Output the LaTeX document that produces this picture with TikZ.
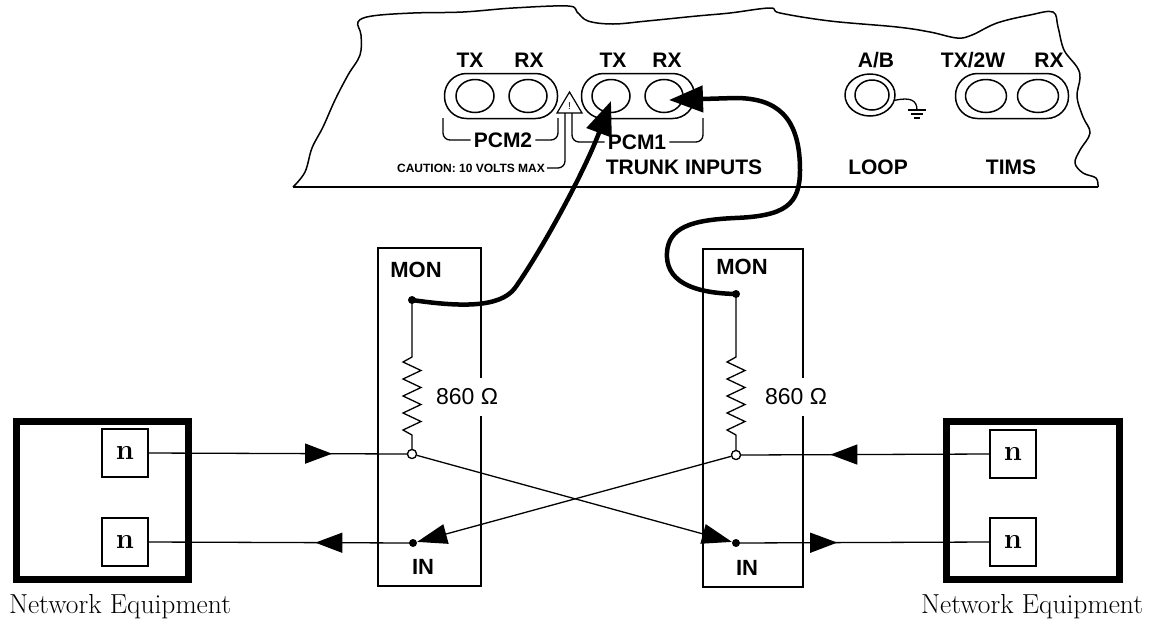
\documentclass[tikz,border=0pt]{standalone}
\usepackage{fontspec}
\usetikzlibrary{arrows.meta,positioning,shapes.geometric,decorations.markings}
\newfontfamily\lblfont{Liberation Sans}
\tikzset{
  pill/.style={draw,line width=1.5pt,rounded corners=22pt,minimum width=113pt,minimum height=45pt,inner sep=0pt},
  jack/.style={draw,ellipse,line width=1.5pt,minimum width=38pt,minimum height=33pt,inner sep=0pt},
  lbl/.style={font=\fontsize{21}{24}\selectfont\lblfont\bfseries,inner sep=3pt},
  wire/.style={line width=1.3pt},
  cable/.style={line width=4.5pt,line cap=round,-{Triangle[length=34pt,width=26pt]}},
  dot/.style={circle,fill,inner sep=0pt,minimum size=8pt},
  term/.style={circle,draw,fill=white,line width=1.2pt,inner sep=0pt,minimum size=9pt},
  nbox/.style={draw,line width=2pt,minimum width=46pt,minimum height=48pt,font=\fontsize{29}{30}\selectfont\bfseries},
  netbox/.style={draw,line width=7pt,minimum width=172pt,minimum height=158pt},
  monbox/.style={draw,line width=1.3pt,minimum width=103pt,minimum height=338pt},
  ohms/.style={fill=white,inner xsep=3pt,inner ysep=11pt,font=\fontsize{23}{25}\selectfont\lblfont},
  midarrow/.style={postaction={decorate},decoration={markings,mark=at position #1 with {\arrow{>}}}},
  >={Triangle[length=27pt,width=20pt]},
}

\begin{document}
\begin{tikzpicture}[x=1pt,y=-1pt]
\useasboundingbox (0,0) rectangle (1161,625);
% panel outline
\draw[line width=1.5pt] plot[smooth,tension=0.6] coordinates {(293,187) (305,172) (312,148) (323,127) (335,100) (348,75) (360,55) (361,35) (358,22) (372,16) (413,13) (463,12) (513,8) (568,6) (577,12) (588,21) (613,24) (647,21) (697,16) (730,13) (770,8) (780,13) (830,21) (897,27) (930,32) (957,38) (972,35) (997,23) (1030,15) (1053,12) (1058,27) (1064,50) (1077,67) (1080,78) (1077,97) (1083,117) (1090,133) (1080,150) (1075,163) (1083,173) (1096,178) (1098,187)};
\draw[line width=2pt] (293,187) -- (1098,187);
%
\node (pcm2) [pill] at (501,96) {};
\node (pcm2tx) [jack] at (475,96) {};
\node (pcm2rx) [jack] at (528,96) {};
\node (pcm1) [pill] at (638,96) {};
\node (pcm1tx) [jack] at (611,96) {};
\node (pcm1rx) [jack] at (664,96) {};
\node (loopout) [draw,ellipse,line width=1.5pt,minimum width=50pt,minimum height=42pt,inner sep=0pt] at (870,95) {};
\node (loopin) [jack,minimum width=34pt,minimum height=30pt] at (872,95) {};
\node (tims) [pill] at (1012,96) {};
\node (timstx) [jack,minimum width=41pt] at (986,96) {};
\node (timsrx) [jack,minimum width=41pt] at (1038,96) {};
%
\node (l1) [lbl] at (470,60) {TX};
\node (l2) [lbl] at (529,60) {RX};
\node (l3) [lbl] at (613,60) {TX};
\node (l4) [lbl] at (667,60) {RX};
\node (l5) [lbl] at (876,60) {A/B};
\node (l6) [lbl] at (973,60) {TX/2W};
\node (l7) [lbl] at (1049,60) {RX};
\node (pcm2lbl) [lbl] at (503,140) {PCM2};
\node (pcm1lbl) [lbl] at (637,142) {PCM1};
\node (trunk) [lbl] at (684,167) {TRUNK INPUTS};
\node (looplbl) [lbl] at (878,167) {LOOP};
\node (timslbl) [lbl] at (1011,167) {TIMS};
\node (caution) [lbl,font=\fontsize{12}{14}\selectfont\lblfont\bfseries,inner sep=2pt] at (471,168) {CAUTION: 10 VOLTS MAX};
%
\draw[wire,rounded corners=7pt] (443,118) |- (pcm2lbl.west);
\draw[wire,rounded corners=7pt] (pcm2lbl.east) -| (558,118);
\draw[wire,rounded corners=7pt] (565,113) |- (caution.east);
\draw[wire,rounded corners=7pt] (572,113) |- (pcm1lbl.west);
\draw[wire,rounded corners=7pt] (pcm1lbl.east) -| (703,118);
\draw[line width=1.2pt,line join=miter] (557,113) -- (569.5,92) -- (582,113) -- cycle;
\node (warn) at (569.5,106) {\fontsize{10}{10}\selectfont\lblfont !};
% ground
\draw[wire] (loopout.-12) .. controls (910,97) and (917,100) .. (917,110);
\draw[wire] (908,110) -- (926,110) (911,114) -- (923,114) (914,118) -- (920,118);
%
\node (monboxL) [monbox] at (429.5,417) {};
\node (monboxR) [monbox,minimum width=100pt] at (753,418) {};
\node (monL) [dot] at (412,300) {};
\node (monR) [dot] at (736,294) {};
\node (termL) [term] at (412,454) {};
\node (termR) [term] at (736,455) {};
\node (inL) [dot] at (413,543) {};
\node (inR) [dot] at (736,543) {};
\node [lbl,font=\fontsize{22}{24}\selectfont\lblfont\bfseries] at (416,270) {MON};
\node [lbl,font=\fontsize{22}{24}\selectfont\lblfont\bfseries] at (742,267) {MON};
\node [lbl,font=\fontsize{22}{24}\selectfont\lblfont\bfseries] at (423,567) {IN};
\node [lbl,font=\fontsize{22}{24}\selectfont\lblfont\bfseries] at (747,568) {IN};
% resistors
\draw[wire] (monL.center) -- ++(0,57) -- ++(-9,5) foreach \i in {1,...,4} {-- ++(18,8.5) -- ++(-18,8.5)} -- ++(9,5) -- (termL.north);
\draw[wire] (monR.center) -- ++(0,63) -- ++(-9,5) foreach \i in {1,...,4} {-- ++(18,8.5) -- ++(-18,8.5)} -- ++(9,5) -- (termR.north);
\node (rL) [ohms] at (467,397) {860 Ω};
\node (rR) [ohms] at (796,397) {860 Ω};
%
\node (netL) [netbox] at (102,500) {};
\node (netR) [netbox,minimum width=173pt] at (1033,500) {};
\node (nL1) [nbox] at (125,453) {n};
\node (nL2) [nbox] at (125,542) {n};
\node (nR1) [nbox] at (1013,454) {n};
\node (nR2) [nbox] at (1013,542) {n};
\node (eqL) [font=\fontsize{27.5}{30}\selectfont] at (120,607) {Network Equipment};
\node (eqR) [font=\fontsize{27.5}{30}\selectfont] at (1032,607) {Network Equipment};
% lines
\draw[wire,midarrow=0.71] (nL1.east) -- (termL.west);
\draw[wire,midarrow=0.37] (inL.center) -- (nL2.east);
\draw[wire,midarrow=0.64] (nR1.west) -- (termR.east);
\draw[wire,midarrow=0.40] (inR.center) -- (nR2.west);
\draw[wire,-{Triangle[length=30pt,width=20pt]}] (termL) -- (inR);
\draw[wire,-{Triangle[length=30pt,width=20pt]}] (termR) -- (inL);
\node at (termL) [term] {};
\node at (termR) [term] {};
% cables
\draw[cable] (monL.center) .. controls (460,307) and (500,308) .. (515,288) .. controls (545,245) and (585,170) .. ([yshift=-5pt]pcm1tx.center);
\draw[cable] (monR.center) .. controls (690,293) and (665,280) .. (667,252) .. controls (669,228) and (690,220) .. (735,218) .. controls (785,216) and (800,205) .. (800,170) .. controls (800,115) and (775,98) .. (735,98) -- ([yshift=-4pt,xshift=5pt]pcm1rx.center);
\end{tikzpicture}
\end{document}
